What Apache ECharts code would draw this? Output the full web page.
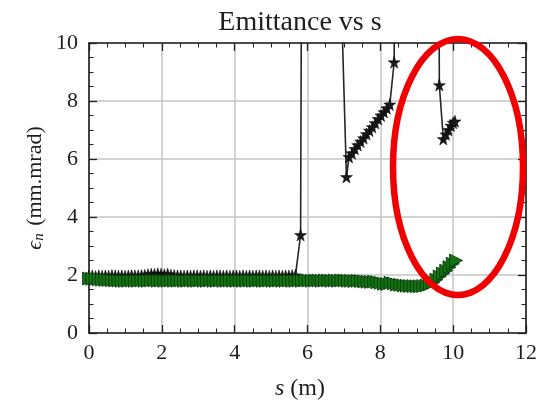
<!DOCTYPE html>
<html>
<head>
<meta charset="utf-8">
<script src="https://cdn.jsdelivr.net/npm/echarts@6/dist/echarts.min.js"></script>
<style>
  html, body { margin: 0; padding: 0; background: #fff; }
  #chart { width: 541px; height: 406px; }
</style>
</head>
<body>
<div id="chart"></div>
<script>
// Normalised emittance along the beamline, two tracked quantities.
const titleText = 'Emittance vs s';
const xTicks = [0, 2, 4, 6, 8, 10, 12];
const yTicks = [0, 2, 4, 6, 8, 10];

// Black stars: s (m)
const blackS = [
  0.00, 0.09, 0.18, 0.27, 0.36, 0.45, 0.54, 0.63, 0.72, 0.81,
  0.90, 0.99, 1.08, 1.17, 1.26, 1.35, 1.44, 1.53, 1.62, 1.71,
  1.80, 1.89, 1.98, 2.07, 2.16, 2.25, 2.34, 2.43, 2.52, 2.61,
  2.70, 2.79, 2.88, 2.97, 3.06, 3.15, 3.24, 3.33, 3.42, 3.51,
  3.60, 3.69, 3.78, 3.87, 3.96, 4.05, 4.14, 4.23, 4.32, 4.41,
  4.50, 4.59, 4.68, 4.77, 4.86, 4.95, 5.04, 5.13, 5.22, 5.31,
  5.40, 5.49, 5.58, 5.67, 5.81, 5.90, 6.50, 7.07, 7.14, 7.22,
  7.30, 7.38, 7.46, 7.54, 7.62, 7.70, 7.78, 7.86, 7.94, 8.02,
  8.10, 8.18, 8.26, 8.38, 8.45, 9.55, 9.62, 9.73, 9.80, 9.87,
  9.94, 10.00, 10.05
];
// Black stars: emittance (mm.mrad)
const blackEps = [
  1.96, 1.97, 1.95, 1.97, 1.96, 1.97, 1.96, 1.98, 1.97, 1.96,
  1.97, 1.96, 1.97, 1.98, 1.97, 1.97, 1.98, 1.99, 2.01, 2.03,
  2.02, 2.04, 2.03, 2.01, 2.03, 1.99, 1.98, 1.97, 1.97, 1.96,
  1.97, 1.96, 1.97, 1.97, 1.96, 1.97, 1.96, 1.97, 1.96, 1.97,
  1.97, 1.96, 1.97, 1.96, 1.97, 1.97, 1.96, 1.97, 1.96, 1.97,
  1.96, 1.97, 1.97, 1.96, 1.97, 1.96, 1.97, 1.96, 1.97, 1.96,
  1.97, 1.97, 1.98, 1.99, 3.38, 36.0, 30.0, 5.38, 6.07, 6.20,
  6.35, 6.48, 6.60, 6.72, 6.86, 6.98, 7.10, 7.24, 7.38, 7.50,
  7.62, 7.75, 7.88, 9.34, 40.0, 40.0, 8.55, 6.69, 6.85, 7.00,
  7.15, 7.25, 7.30
];

// Green triangles: s (m)
const greenS = [
  0.00, 0.09, 0.18, 0.27, 0.36, 0.45, 0.54, 0.63, 0.72, 0.81,
  0.90, 0.99, 1.08, 1.17, 1.26, 1.35, 1.44, 1.53, 1.62, 1.71,
  1.80, 1.89, 1.98, 2.07, 2.16, 2.25, 2.34, 2.43, 2.52, 2.61,
  2.70, 2.79, 2.88, 2.97, 3.06, 3.15, 3.24, 3.33, 3.42, 3.51,
  3.60, 3.69, 3.78, 3.87, 3.96, 4.05, 4.14, 4.23, 4.32, 4.41,
  4.50, 4.59, 4.68, 4.77, 4.86, 4.95, 5.04, 5.13, 5.22, 5.31,
  5.40, 5.49, 5.58, 5.67, 5.76, 5.85, 5.94, 6.03, 6.12, 6.21,
  6.30, 6.39, 6.48, 6.57, 6.66, 6.75, 6.84, 6.93, 7.02, 7.11,
  7.20, 7.29, 7.38, 7.47, 7.56, 7.65, 7.74, 7.83, 7.92, 8.01,
  8.10, 8.19, 8.28, 8.37, 8.46, 8.55, 8.64, 8.73, 8.82, 8.91,
  9.00, 9.09, 9.18, 9.27, 9.36, 9.45, 9.54, 9.63, 9.72, 9.81,
  9.90, 9.99, 10.08
];
// Green triangles: emittance (mm.mrad)
const greenEps = [
  1.88, 1.87, 1.86, 1.85, 1.84, 1.83, 1.83, 1.82, 1.81, 1.81,
  1.80, 1.80, 1.80, 1.81, 1.80, 1.80, 1.81, 1.80, 1.80, 1.81,
  1.81, 1.80, 1.81, 1.80, 1.80, 1.81, 1.80, 1.80, 1.81, 1.80,
  1.80, 1.81, 1.80, 1.80, 1.81, 1.80, 1.80, 1.81, 1.80, 1.80,
  1.81, 1.80, 1.80, 1.81, 1.80, 1.80, 1.81, 1.80, 1.80, 1.81,
  1.80, 1.80, 1.81, 1.80, 1.80, 1.81, 1.80, 1.80, 1.81, 1.80,
  1.80, 1.81, 1.80, 1.80, 1.81, 1.80, 1.81, 1.81, 1.80, 1.81,
  1.81, 1.80, 1.81, 1.81, 1.80, 1.81, 1.80, 1.81, 1.81, 1.80,
  1.80, 1.79, 1.80, 1.79, 1.78, 1.77, 1.76, 1.77, 1.75, 1.73,
  1.70, 1.69, 1.73, 1.71, 1.67, 1.66, 1.64, 1.63, 1.62, 1.62,
  1.61, 1.61, 1.62, 1.64, 1.68, 1.74, 1.84, 1.95, 2.05, 2.15,
  2.27, 2.39, 2.50
];

const zip = (xs, ys) => xs.map((x, i) => [x, ys[i]]);

const STAR = 'path://M50,0 L61,35 L98,35 L68,57 L79,91 L50,70 L21,91 L32,57 L2,35 L39,35 Z';
const SERIF = '"Liberation Serif", "DejaVu Serif", serif';
const INK = '#1e1e1e';

const grid = { left: 89, right: 15, top: 43, bottom: 73 };

function axis(opts) {
  return Object.assign({
    type: 'value',
    axisLine: { show: true, onZero: false, lineStyle: { color: INK, width: 1.6 } },
    axisTick: { show: true, inside: true, length: 8, lineStyle: { color: INK, width: 1.3 } },
    minorTick: { show: true, splitNumber: 4, length: 4.5, lineStyle: { color: INK, width: 1 } },
    axisLabel: { fontFamily: SERIF, fontSize: 22, color: INK },
    splitLine: { show: false }
  }, opts);
}

const xMain = axis({
  min: xTicks[0], max: xTicks[xTicks.length - 1], interval: xTicks[1] - xTicks[0],
  position: 'bottom',
  splitLine: { show: true, lineStyle: { color: '#c4c4c4', width: 1.5 } }
});
xMain.axisLabel = Object.assign({}, xMain.axisLabel, { margin: 9 });

const xTop = axis({
  min: xTicks[0], max: xTicks[xTicks.length - 1], interval: xTicks[1] - xTicks[0],
  position: 'top'
});
xTop.axisLabel = { show: false };

const yMain = axis({
  min: yTicks[0], max: yTicks[yTicks.length - 1], interval: yTicks[1] - yTicks[0],
  position: 'left',
  splitLine: { show: true, lineStyle: { color: '#c4c4c4', width: 1.5 } }
});
yMain.axisLabel = Object.assign({}, yMain.axisLabel, { margin: 11 });

const yRight = axis({
  min: yTicks[0], max: yTicks[yTicks.length - 1], interval: yTicks[1] - yTicks[0],
  position: 'right'
});
yRight.axisLabel = { show: false };

const chart = echarts.init(document.getElementById('chart'), null, { renderer: 'canvas' });

const plotCy = grid.top + (406 - grid.top - grid.bottom) / 2;
const textCx = 300;

chart.setOption({
  animation: false,
  backgroundColor: '#ffffff',
  grid: grid,
  xAxis: [xMain, xTop],
  yAxis: [yMain, yRight],
  graphic: [
    {
      type: 'text', x: textCx, y: 23,
      style: { text: titleText, font: '28px ' + SERIF, fill: INK, align: 'center', verticalAlign: 'middle' }
    },
    {
      type: 'text', x: textCx, y: 389,
      style: {
        text: '{i|s} (m)', align: 'center', verticalAlign: 'middle', fill: INK,
        font: '24px ' + SERIF,
        rich: { i: { fontFamily: SERIF, fontSize: 24, fontStyle: 'italic', fill: INK } }
      }
    },
    {
      type: 'text', x: 35, y: plotCy, rotation: Math.PI / 2,
      style: {
        text: '{i|ϵ}{sub|n} (mm.mrad)', align: 'center', verticalAlign: 'middle', fill: INK,
        font: '22px ' + SERIF,
        rich: {
          i: { fontFamily: SERIF, fontSize: 22, fontStyle: 'italic', fill: INK },
          sub: { fontFamily: SERIF, fontSize: 15, fontStyle: 'italic', fill: INK, verticalAlign: 'bottom', padding: [8, 2, 0, 0] }
        }
      }
    },
    {
      // highlight ring around the end of the line
      type: 'ellipse', z: 100,
      shape: { cx: 458, cy: 167, rx: 65, ry: 128 },
      style: { fill: 'none', stroke: '#f00000', lineWidth: 6.5 }
    }
  ],
  series: [
    {
      name: 'black',
      type: 'line',
      xAxisIndex: 0, yAxisIndex: 0,
      data: zip(blackS, blackEps),
      clip: true,
      symbol: STAR,
      symbolSize: 12,
      showAllSymbol: true,
      lineStyle: { color: '#262626', width: 1.6 },
      itemStyle: { color: '#1a1a1a', borderColor: '#000', borderWidth: 0.5 },
      z: 2
    },
    {
      name: 'green',
      type: 'line',
      xAxisIndex: 0, yAxisIndex: 0,
      data: zip(greenS, greenEps),
      clip: true,
      symbol: 'triangle',
      symbolRotate: -90,
      symbolSize: 13,
      showAllSymbol: true,
      lineStyle: { color: '#136b13', width: 1.5 },
      itemStyle: { color: '#127512', borderColor: '#0b2e0b', borderWidth: 0.8 },
      z: 3
    }
  ]
});
</script>
</body>
</html>
